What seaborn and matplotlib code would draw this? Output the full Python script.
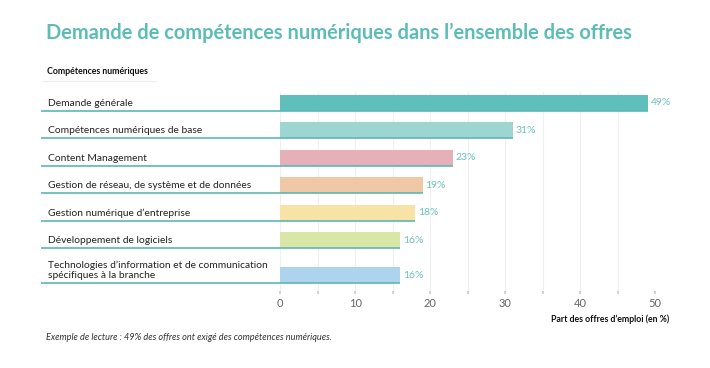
import matplotlib
matplotlib.use("Agg")
import matplotlib.pyplot as plt
import seaborn as sns
import pandas as pd

categories = [
    "Demande générale",
    "Compétences numériques de base",
    "Content Management",
    "Gestion de réseau, de système et de données",
    "Gestion numérique d’entreprise",
    "Développement de logiciels",
    "Technologies d’information et de communication\nspécifiques à la branche",
]
values = [49, 31, 23, 19, 18, 16, 16]
value_labels = ["49%", "31%", "23%", "19%", "18%", "16%", "16%"]
colors = ["#5fbfbb", "#9dd6d0", "#e6b0b8", "#efc9a5", "#f7e3a6", "#d9e6a6", "#aed3ec"]
x_ticks = [0, 5, 10, 15, 20, 25, 30, 35, 40, 45, 50]
x_ticklabels = ["0", "", "10", "", "20", "", "30", "", "40", "", "50"]

sns.set_theme(style="white")
plt.rcParams["font.family"] = ["Lato", "DejaVu Sans"]

# row positions: two-line labels get a little extra room
pos = []
cur = 0.0
for i, c in enumerate(categories):
    if i > 0:
        cur += 1.28 if "\n" in c else 1.0
    pos.append(cur)

df = pd.DataFrame({"cat": categories, "val": values, "pos": pos})

fig = plt.figure(figsize=(7.1, 3.68), dpi=100)
ax = fig.add_axes([41 / 710, 1 - 291 / 368, (655 - 41) / 710, (291 - 92) / 368])

sns.barplot(data=df, x="val", y="pos", hue="cat", palette=colors, legend=False,
            orient="h", native_scale=True, dodge=False,
            width=0.58, ax=ax, saturation=1, linewidth=0)

ax.set_xlim(-31.9, 50)
ax.set_ylim(6.86, -0.40)

teal = "#5bb8b5"
for p, v, lab, c in zip(pos, values, value_labels, categories):
    ax.hlines(p + 0.29, -31.9, v, color=teal, lw=1.2, zorder=3)
    ax.text(v + 0.4, p, lab, va="center", ha="left", fontsize=7.5, color="#6cc2bd")
    ax.text(-31.0, p - 0.18 if "\n" in c else p + 0.02,
            c, va="center", ha="left", fontsize=7.4, color="#222222",
            linespacing=1.05)

ax.set_xticks(x_ticks)
ax.set_xticklabels(x_ticklabels, fontsize=8, color="#666666")
ax.tick_params(axis="x", length=2, color="#cccccc", pad=3, bottom=True)
ax.set_yticks([])
for v in x_ticks:
    ax.axvline(v, color="#efefef", lw=0.8, zorder=0)
for s in ax.spines.values():
    s.set_visible(False)
ax.set_xlabel("")
ax.set_ylabel("")

fig.text(46 / 710, 1 - 33 / 368, "Demande de compétences numériques dans l’ensemble des offres",
         fontsize=14.4, fontweight="bold", color="#5bbdb6", va="center", ha="left")
fig.text(47 / 710, 1 - 72 / 368, "Compétences numériques", fontsize=6.3, fontweight="bold",
         color="#111111", va="center", ha="left")
fig.lines.append(plt.Line2D([42 / 710, 156 / 710], [1 - 81 / 368, 1 - 81 / 368],
                            transform=fig.transFigure, color="#eeeeee", lw=0.8))
fig.text(669 / 710, 1 - 319 / 368, "Part des offres d’emploi (en %)", fontsize=6.3,
         fontweight="bold", color="#111111", va="center", ha="right")
fig.text(46 / 710, 1 - 338 / 368,
         "Exemple de lecture : 49% des offres ont exigé des compétences numériques.",
         fontsize=6.6, style="italic", color="#333333", va="center", ha="left")

fig.savefig("out.png", dpi=100, facecolor="white")
